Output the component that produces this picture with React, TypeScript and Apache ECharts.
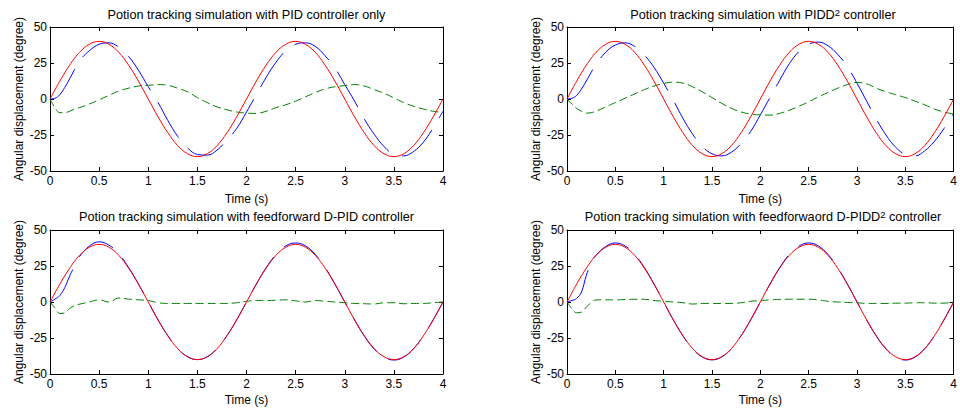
import React, { useEffect, useRef } from 'react';
import * as echarts from 'echarts';

// Sample times (s)
const TIME = [0, 0.05, 0.1, 0.15, 0.2, 0.25, 0.3, 0.4, 0.5, 0.6, 0.7, 0.8, 0.9, 1.0, 1.1, 1.2, 1.3, 1.4, 1.5, 1.6, 1.7, 1.8, 1.9, 2.0, 2.1, 2.2, 2.3, 2.4, 2.5, 2.6, 2.7, 2.8, 2.9, 3.0, 3.1, 3.2, 3.3, 3.4, 3.5, 3.6, 3.7, 3.8, 3.9, 4.0];

// Reference trajectory (red), same in every panel
const REFERENCE = [0, 6.3, 12.4, 18.2, 23.5, 28.3, 32.4, 38.0, 40.0, 38.0, 32.4, 23.5, 12.4, 0, -12.4, -23.5, -32.4, -38.0, -40.0, -38.0, -32.4, -23.5, -12.4, 0, 12.4, 23.5, 32.4, 38.0, 40.0, 38.0, 32.4, 23.5, 12.4, 0, -12.4, -23.5, -32.4, -38.0, -40.0, -38.0, -32.4, -23.5, -12.4, 0];

// Panel 1: PID only
const PID_ACTUAL = [0, 0.5, 3, 8, 14, 20.5, 26.5, 33.5, 38, 39, 36, 29.5, 20, 8.5, -2.5, -15, -26, -34, -38.5, -39, -35.5, -28.5, -20.5, -9, 3, 15, 25.5, 33.5, 38, 39, 36.5, 30, 21.5, 10, -1.5, -14, -24.5, -33, -38.5, -39.5, -36.5, -30, -20, -8.5];
const PID_ERROR = [0, -6, -9.5, -9.5, -8.5, -7, -6, -3.5, -0.5, 2.5, 5.5, 7.5, 9, 9.5, 10, 9.5, 7.5, 5, 1, -2.5, -5.5, -7.5, -9, -9.8, -10, -8.5, -6, -4, -1.5, 1.5, 4.5, 7, 8.5, 9.3, 10, 9, 6.5, 4, 0.8, -2.5, -5, -7, -8.5, -9.3];

// Panel 2: PIDD2
const PIDD2_ACTUAL = [0, 0.5, 2.5, 7, 12.5, 18.5, 24, 32.5, 37.5, 39, 36.5, 30.5, 22, 11, -1, -13.5, -24.5, -33, -38, -39.5, -37, -31, -22.5, -11, 1, 13, 24.5, 33, 38, 39.5, 37, 31, 22.5, 11, -1.5, -14, -25, -33.5, -38.5, -39.5, -36, -29.5, -20.5, -10];
const PIDD2_ERROR = [0, -3.5, -6.5, -8.5, -9.8, -9.5, -8.5, -5.5, -2.5, 0.5, 3.5, 6.5, 9, 10.8, 11.7, 11, 8.5, 5, 1, -3, -6.5, -9, -10.5, -11, -11.2, -10, -7.8, -5, -2, 1.5, 4.5, 7.5, 10, 11.5, 10.5, 7.5, 5, 3, 1, -1.5, -4, -7, -9, -10.5];

// Panel 3: feedforward D-PID
const FF_PID_ACTUAL = [0, 2, 4.5, 10, 18, 25, 31.5, 38.8, 41.8, 39.5, 33.5, 24, 12.5, 0, -12.5, -23.5, -32.5, -38, -40, -38, -32.4, -23.5, -12.4, 0, 12.5, 23.8, 33, 39, 41, 39, 33, 24, 12.5, 0, -12.5, -23.7, -32.7, -38.3, -40.3, -38.3, -32.5, -23.5, -12.4, 0];
const FF_PID_ERROR = [0, -4, -8, -7.5, -4.5, -2.5, -1.5, 0, 1.5, 0, 2.8, 2, 1.5, 1, -0.5, -1, -1, -1, -1, -1, -1, -1, -0.5, 0.5, 1, 1, 1.2, 1.5, 0.8, 0, 1, 0.5, 0, -0.5, -1, -1.2, -1.4, -0.5, -0.5, -1.2, -1, -1, -0.5, 0];

// Panel 4: feedforward D-PIDD2
const FF_PIDD2_ACTUAL = [0, 1, 2.5, 7, 18.5, 27, 32.4, 38.5, 41, 39, 33, 24, 12.5, 0, -12.5, -23.6, -32.6, -38.2, -40.2, -38.2, -32.5, -23.5, -12.4, 0, 12.5, 23.8, 33, 38.8, 41, 39, 33, 24, 12.5, 0, -12.5, -23.7, -32.7, -38.3, -40.3, -38.3, -32.5, -23.5, -12.4, 0];
const FF_PIDD2_ERROR = [0, -4.5, -7.5, -7, -3.5, -0.5, 1.4, 1.5, 1.5, 1.7, 1.9, 1.9, 1, 0.5, 0, -0.5, -1.4, -1, -1, -1, -1, -0.5, 0.5, 1, 1.5, 1.8, 1.9, 1.9, 1.9, 1.5, 0.5, 0, -0.3, -0.5, -1, -1, -1, -0.8, -0.8, -0.5, -0.5, -0.8, -0.8, 0];

const TITLES = [
  'Potion tracking simulation with PID controller only',
  'Potion tracking simulation with PIDD{sup|2} controller',
  'Potion tracking simulation with feedforward D-PID controller',
  'Potion tracking simulation with feedforwaord D-PIDD{sup|2} controller',
];
const X_TICKS = [0, 4, 0.5];
const Y_TICKS = [-50, 50, 25];
const X_NAME = 'Time (s)';
const Y_NAME = 'Angular displacement (degree)';

const PANELS = [
  { actual: PID_ACTUAL, error: PID_ERROR },
  { actual: PIDD2_ACTUAL, error: PIDD2_ERROR },
  { actual: FF_PID_ACTUAL, error: FF_PID_ERROR },
  { actual: FF_PIDD2_ACTUAL, error: FF_PIDD2_ERROR },
];

const FONT = '"Liberation Sans", Arial, sans-serif';

const GRIDS = [
  { left: 50, top: 27, width: 393, height: 144 },
  { left: 567, top: 27, width: 392, height: 144 },
  { left: 50, top: 230, width: 393, height: 144 },
  { left: 567, top: 230, width: 392, height: 144 },
];
const TITLE_TOPS = [7.5, 7.5, 209.5, 209.5];
const XNAME_GAPS = [22, 22, 20, 20];

const zip = (ys: number[]) => TIME.map((t, i) => [t, ys[i]]);

function buildOption() {
  const xAxis: any[] = [];
  const yAxis: any[] = [];
  const series: any[] = [];
  const title: any[] = [];
  const axisLine = { show: true, onZero: false, lineStyle: { color: '#000', width: 1 } };
  const axisTick = { show: true, inside: true, length: 4, lineStyle: { color: '#000', width: 1 } };
  const labelStyle = { color: '#000', fontSize: 12, fontFamily: FONT };
  GRIDS.forEach((g, i) => {
    title.push({
      text: TITLES[i],
      left: g.left + g.width / 2,
      textAlign: 'center',
      top: TITLE_TOPS[i],
      padding: 0,
      textStyle: {
        fontFamily: FONT,
        fontSize: 12.7,
        fontWeight: 'normal',
        color: '#000',
        lineHeight: 14,
        rich: {
          sup: { fontFamily: FONT, fontSize: 9.5, color: '#000', verticalAlign: 'top', lineHeight: 8 },
        },
      },
    });
    xAxis.push({
      gridIndex: i, type: 'value', position: 'bottom', min: X_TICKS[0], max: X_TICKS[1], interval: X_TICKS[2],
      axisLine, axisTick, splitLine: { show: false },
      axisLabel: { ...labelStyle, margin: 4 },
      name: X_NAME, nameLocation: 'middle', nameGap: XNAME_GAPS[i],
      nameTextStyle: labelStyle,
    });
    xAxis.push({
      gridIndex: i, type: 'value', position: 'top', min: X_TICKS[0], max: X_TICKS[1], interval: X_TICKS[2],
      axisLine, axisTick, splitLine: { show: false }, axisLabel: { show: false },
    });
    yAxis.push({
      gridIndex: i, type: 'value', position: 'left', min: Y_TICKS[0], max: Y_TICKS[1], interval: Y_TICKS[2],
      axisLine, axisTick, splitLine: { show: false },
      axisLabel: { ...labelStyle, margin: 3 },
      name: Y_NAME, nameLocation: 'middle', nameGap: 25,
      nameTextStyle: labelStyle,
    });
    yAxis.push({
      gridIndex: i, type: 'value', position: 'right', min: Y_TICKS[0], max: Y_TICKS[1], interval: Y_TICKS[2],
      axisLine, axisTick, splitLine: { show: false }, axisLabel: { show: false },
    });
    const p = PANELS[i];
    const common = { type: 'line', xAxisIndex: 2 * i, yAxisIndex: 2 * i, showSymbol: false, smooth: 0.4, silent: true };
    series.push({ ...common, data: zip(p.actual), lineStyle: { color: '#0000ff', width: 1, type: [41, 14] } });
    series.push({ ...common, data: zip(p.error), lineStyle: { color: '#008000', width: 1, type: [8, 4] } });
    series.push({ ...common, data: zip(REFERENCE), lineStyle: { color: '#ff0000', width: 1 } });
  });
  return {
    animation: false,
    backgroundColor: '#ffffff',
    title,
    grid: GRIDS.map((g) => ({ ...g, containLabel: false })),
    xAxis,
    yAxis,
    series,
  };
}

export default function App() {
  const ref = useRef<HTMLDivElement>(null);
  useEffect(() => {
    if (!ref.current) return;
    const chart = echarts.init(ref.current, undefined, { renderer: 'svg' });
    chart.setOption(buildOption() as any);
    return () => chart.dispose();
  }, []);
  return <div ref={ref} style={{ position: 'fixed', left: 0, top: 0, width: 960, height: 412 }} />;
}
